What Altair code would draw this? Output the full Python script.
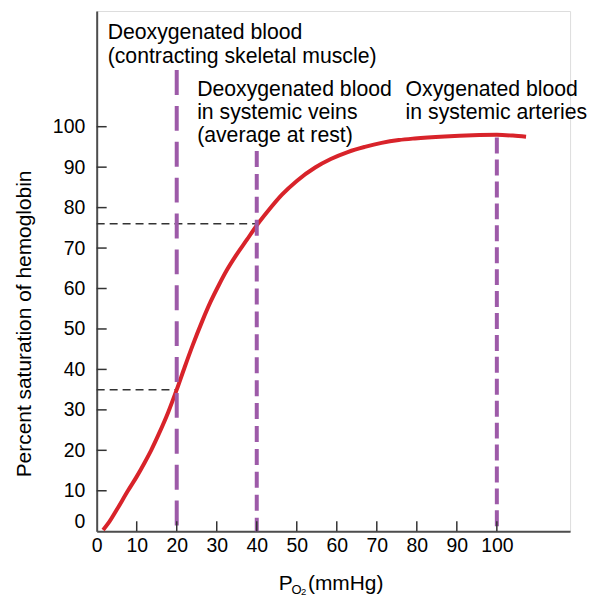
import altair as alt
import pandas as pd

# ---- data ----
po2 = [1.6, 3, 5, 7.8, 10, 12, 13.6, 15.5, 17.9, 20, 22, 24, 26.4, 28.5, 30.6,
       32.5, 34.7, 37.5, 40, 43, 46.3, 50, 54.6, 58.5, 62.9, 67, 71.2, 75.5,
       79.5, 87, 94, 100, 104, 107.3]
saturation = [0.3, 2.1, 5.3, 10, 13.5, 17, 20, 24, 29.5, 35, 40.6, 46, 52, 56.8,
              61, 64.5, 68, 72, 75.6, 79.4, 83.2, 86.6, 89.9, 92, 93.8, 95, 96,
              96.7, 97.1, 97.6, 97.9, 98, 97.8, 97.5]

marker_x = [20, 40, 100]
marker_top = [114, 94, 97.3]

guide_y = [35, 76]
guide_x_end = [20, 40]

x_ticks = [0, 10, 20, 30, 40, 50, 60, 70, 80, 90, 100]
y_ticks = [0, 10, 20, 30, 40, 50, 60, 70, 80, 90, 100]

ann_x = [2.74, 25.1, 77.2]
ann_y = [121.6, 107.6, 107.6]
ann_text = [
    "Deoxygenated blood\n(contracting skeletal muscle)",
    "Deoxygenated blood\nin systemic veins\n(average at rest)",
    "Oxygenated blood\nin systemic arteries",
]

FONT = "Liberation Sans"
W, H = 475, 522
XDOM = [0, 118.3]
YDOM = [0, 128.6]

xs = alt.Scale(domain=XDOM, nice=False, zero=False)
ys = alt.Scale(domain=YDOM, nice=False, zero=False)

curve_df = pd.DataFrame({"p": po2, "s": saturation})
marker_df = pd.DataFrame({"p": marker_x, "top": marker_top, "bottom": [0, 0, 0]})
guide_df = pd.DataFrame({"y": guide_y, "x0": [0, 0], "x1": guide_x_end})
xt_df = pd.DataFrame({"v": x_ticks[1:]})
yt_df = pd.DataFrame({"v": y_ticks[1:]})
ann_df = pd.DataFrame({"x": ann_x, "y": ann_y, "t": ann_text})

xaxis = alt.Axis(values=x_ticks, title=None, ticks=False, tickSize=0, grid=False,
                 labelFont=FONT, labelFontSize=19.5, labelColor="black",
                 labelPadding=5, domainColor="#4d4d4d", domainWidth=2,
                 labelFlush=False)
yaxis = alt.Axis(values=y_ticks, title=None, ticks=False, tickSize=0, grid=False,
                 labelFont=FONT, labelFontSize=19.5, labelColor="black",
                 labelPadding=12, domainColor="#4d4d4d", domainWidth=2,
                 labelFlush=True)


def X(field):
    return alt.X(field, scale=xs, axis=xaxis)


def Y(field):
    return alt.Y(field, scale=ys, axis=yaxis)


curve = alt.Chart(curve_df).mark_line(color="#d8232a", strokeWidth=4,
                                      interpolate="monotone").encode(
    x=X("p:Q"), y=Y("s:Q"),
)

guides = alt.Chart(guide_df).mark_rule(color="#333333", strokeWidth=1.5,
                                       strokeDash=[8, 5]).encode(
    x=X("x0:Q"), x2="x1:Q", y=Y("y:Q"),
)


def marker(i, dash):
    return alt.Chart(marker_df.iloc[[i]]).mark_rule(
        color="#9d5aa8", strokeWidth=4, strokeDash=dash).encode(
        x=X("p:Q"), y=Y("top:Q"), y2="bottom:Q",
    )


m1 = marker(0, [25, 11])
m2 = marker(1, [16, 7])
m3 = marker(2, [16, 6])

xticks = alt.Chart(xt_df).mark_rule(color="#333333", strokeWidth=1.5).encode(
    x=X("v:Q"), y=alt.value(H), y2=alt.value(H - 10),
)
yticks = alt.Chart(yt_df).mark_rule(color="#333333", strokeWidth=1.5).encode(
    y=Y("v:Q"), x=alt.value(0), x2=alt.value(10),
)

ann = alt.Chart(ann_df).mark_text(font=FONT, fontSize=21.3, align="left",
                                  baseline="alphabetic", lineBreak="\n",
                                  lineHeight=23.3, color="black").encode(
    x=X("x:Q"), y=Y("y:Q"), text="t:N",
)

ytitle = alt.Chart(pd.DataFrame({"t": ["Percent saturation of hemoglobin"]})).mark_text(
    font=FONT, fontSize=21, angle=270, align="center", baseline="alphabetic",
    color="black").encode(x=alt.value(-65.6), y=alt.value(314), text="t:N")


def label(txt, x, y, size):
    return alt.Chart(pd.DataFrame({"t": [txt]})).mark_text(
        font=FONT, fontSize=size, align="left", baseline="alphabetic",
        color="black").encode(x=alt.value(x), y=alt.value(y), text="t:N")


xt_p = label("P", 182.7, 580.5, 21)
xt_o = label("O", 195.4, 585.3, 13)
xt_2 = label("2", 205, 586.3, 9.5)
xt_u = label("(mmHg)", 212, 580.5, 21)

chart = alt.layer(
    guides, curve, m1, m2, m3, xticks, yticks, ann, ytitle, xt_p, xt_o, xt_2, xt_u
).properties(
    width=W, height=H,
    autosize=alt.AutoSizeParams(type="none"),
    padding={"left": 89, "top": 2, "right": 20, "bottom": 70},
).configure_view(strokeWidth=0, stroke="transparent").configure(background="white")

chart.save("out.html", embed_options={"renderer": "svg", "actions": False})
